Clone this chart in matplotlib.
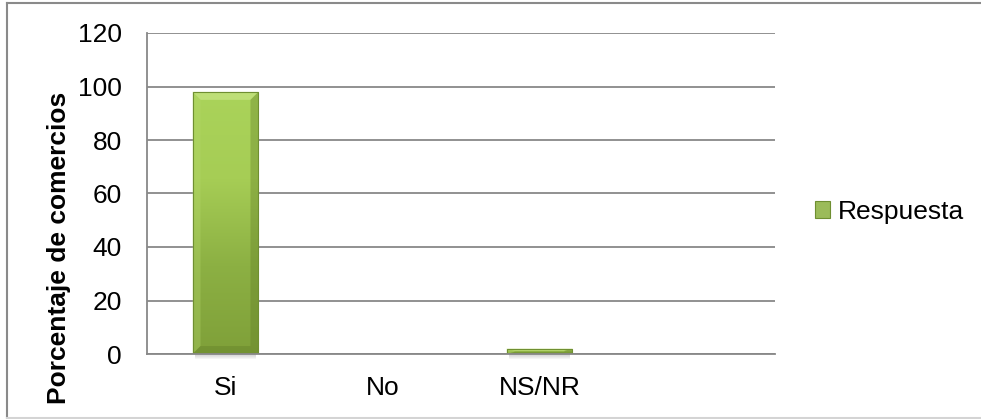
import numpy as np
import matplotlib
matplotlib.use("Agg")
import matplotlib.pyplot as plt
from matplotlib.colors import LinearSegmentedColormap
from matplotlib.patches import Polygon, Rectangle
from matplotlib.lines import Line2D

# Survey results
categories = ["Si", "No", "NS/NR", ""]
values = [98, 0, 2, 0]
series_name = "Respuesta"
y_label = "Porcentaje de comercios"
y_ticks = [0, 20, 40, 60, 80, 100, 120]

plt.rcParams["font.family"] = ["Liberation Sans", "DejaVu Sans"]
FS = 19

W, H = 981, 419
fig = plt.figure(figsize=(W / 100, H / 100), dpi=100)
fig.patch.set_facecolor("white")

ax = fig.add_axes([147 / W, (H - 354) / H, (775 - 147) / W, (354 - 33) / H])

grid_c = "#888888"
x = np.arange(len(categories))
bars = ax.bar(x, values, width=0.42, color="#9bbb59", linewidth=0, zorder=3)

ax.set_xlim(-0.5, len(categories) - 0.5)
ax.set_ylim(y_ticks[0], y_ticks[-1])
ax.set_yticks(y_ticks)
ax.set_xticks(x)
ax.set_xticklabels(categories)
ax.tick_params(axis="both", length=0, labelsize=FS, colors="black")
ax.tick_params(axis="y", pad=18)
ax.tick_params(axis="x", pad=16)
ax.yaxis.grid(True, color=grid_c, linewidth=1.3, zorder=0)
ax.set_axisbelow(True)
for s in ("top", "right"):
    ax.spines[s].set_visible(False)
for s in ("left", "bottom"):
    ax.spines[s].set_color(grid_c)
    ax.spines[s].set_linewidth(1.3)
    ax.spines[s].set_zorder(4)

# Bevelled, gradient-filled bars
grad = LinearSegmentedColormap.from_list("g", ["#7fa039", "#8cb043", "#a6cd55", "#aad35a"])
fig.canvas.draw()
inv = ax.transData.inverted()


def px_to_data(dx, dy):
    p0 = inv.transform((0, 0))
    p1 = inv.transform((dx, dy))
    return p1[0] - p0[0], p1[1] - p0[1]


bx, by = px_to_data(8, 8)
for b in bars:
    h = b.get_height()
    if h <= 0:
        continue
    x0, w = b.get_x(), b.get_width()
    x1 = x0 + w
    y0, y1 = 0, h
    g = np.linspace(0, 1, 256).reshape(-1, 1)
    im = ax.imshow(g, extent=(x0, x1, y0, y1), origin="lower", cmap=grad,
                   aspect="auto", zorder=3.1, interpolation="bilinear")
    im.set_clip_path(b)
    e = min(by, h / 2.5)
    ex = min(bx, w / 2.5)
    # top facet
    ax.add_patch(Polygon([(x0, y1), (x1, y1), (x1 - ex, y1 - e), (x0 + ex, y1 - e)],
                         closed=True, facecolor="#c8e585", alpha=0.7, lw=0, zorder=3.2))
    # left facet
    ax.add_patch(Polygon([(x0, y0), (x0, y1), (x0 + ex, y1 - e), (x0 + ex, y0 + e)],
                         closed=True, facecolor="#b5d86c", alpha=0.35, lw=0, zorder=3.2))
    # right facet
    ax.add_patch(Polygon([(x1, y0), (x1, y1), (x1 - ex, y1 - e), (x1 - ex, y0 + e)],
                         closed=True, facecolor="#5f7a26", alpha=0.35, lw=0, zorder=3.2))
    # bottom facet
    ax.add_patch(Polygon([(x0, y0), (x1, y0), (x1 - ex, y0 + e), (x0 + ex, y0 + e)],
                         closed=True, facecolor="#5f7a26", alpha=0.35, lw=0, zorder=3.2))
    # outline
    ax.add_patch(Rectangle((x0, y0), w, h, fill=False, edgecolor="#6f8f31",
                           lw=0.8, zorder=3.3))
    # soft shadow below the bar
    for k in range(1, 6):
        _, sy = px_to_data(0, k)
        ax.add_patch(Rectangle((x0 + ex * 0.3, y0 - sy), w - ex * 0.6, sy,
                               facecolor="#606060", alpha=0.06, lw=0,
                               clip_on=False, zorder=2.9))

# Axis title
fig.text(59 / W, (H - 248) / H, y_label, rotation=90, fontsize=FS,
         fontweight="bold", ha="center", va="center")

# Legend
handle = Rectangle((0, 0), 1, 1, facecolor="#9bbb59", edgecolor="#6f8f31", lw=0.8)
ax.legend([handle], [series_name], loc="center left",
          bbox_to_anchor=(815 / W, (H - 212) / H), bbox_transform=fig.transFigure,
          frameon=False, fontsize=FS, borderpad=0, borderaxespad=0,
          handlelength=0.58, handleheight=0.58, handletextpad=0.3)

# Chart border
border_c = "#8a8a8a"
fig.add_artist(Line2D([7 / W, 1.0], [(H - 3) / H] * 2, color=border_c, lw=1.5,
                      transform=fig.transFigure))
fig.add_artist(Line2D([7 / W] * 2, [1 / H, (H - 3) / H], color=border_c, lw=1.5,
                      transform=fig.transFigure))
fig.add_artist(Line2D([7 / W, 1.0], [1 / H] * 2, color="#d4d4d4", lw=1.5,
                      transform=fig.transFigure))

fig.savefig("out.png", dpi=100, facecolor="white")
